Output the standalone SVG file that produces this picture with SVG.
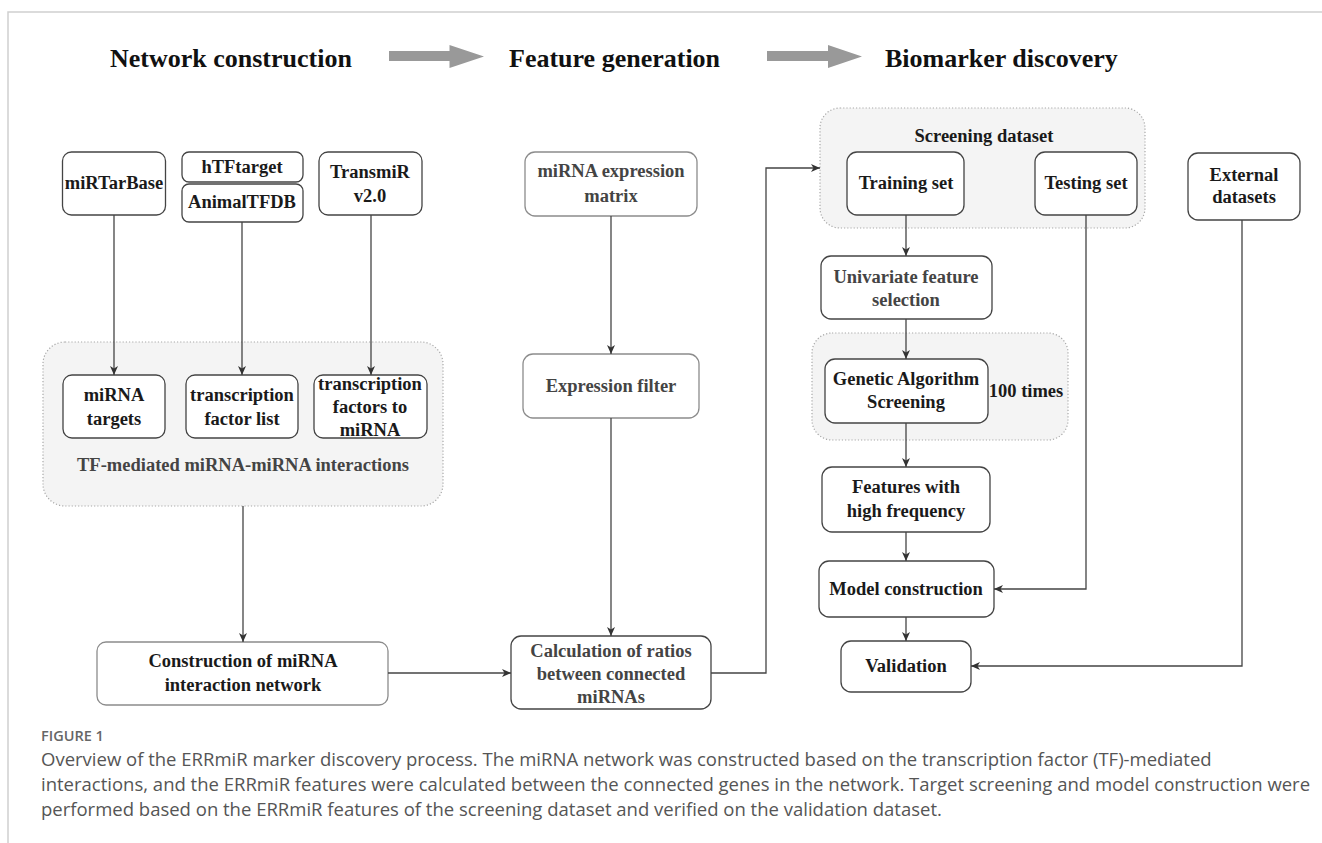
<svg xmlns="http://www.w3.org/2000/svg" width="1322" height="843" viewBox="0 0 1322 843">
<style>
.bg{fill:#fff}
.frame{stroke:#d0d0d0;stroke-width:1.5;fill:none}
.grp{fill:#f4f4f4;stroke:#a8a8a8;stroke-width:1.2;stroke-dasharray:1.2 2}
.box{fill:#fff;stroke:#444;stroke-width:1.3}
.lt{fill:#fff;stroke:#8c8c8c;stroke-width:1.3}
.t{font-family:"Liberation Serif","Times New Roman",serif;font-weight:bold;font-size:18.5px;fill:#1a1a1a;text-anchor:middle}
.g{fill:#444}
.h{font-family:"Liberation Serif","Times New Roman",serif;font-weight:bold;font-size:26px;fill:#111}
.big{fill:#999}
.conn path{fill:none;stroke:#444;stroke-width:1.3;marker-end:url(#ah)}
.cap{font-family:"Open Sans","Noto Sans",sans-serif;font-size:18.5px;fill:#555}
.fig{font-family:"Open Sans","Noto Sans",sans-serif;font-size:14.5px;font-weight:600;fill:#666}
</style>
<defs>
<marker id="ah" markerUnits="userSpaceOnUse" markerWidth="10" markerHeight="9" refX="9" refY="4" orient="auto">
<path d="M0,0 L9,4 L0,8 L2.5,4 z" fill="#333"/>
</marker>
</defs>
<rect class="bg" x="0" y="0" width="1322" height="843"/>
<path class="frame" d="M8,843 V12 H1322"/>

<g id="headers">
<text class="h" x="110" y="67">Network construction</text>
<polygon class="big" points="389,51 449.5,51 449.5,45 484,56.5 449.5,68 449.5,61 389,61"/>
<text class="h" x="509" y="67">Feature generation</text>
<polygon class="big" points="767,51 828,51 828,45 862,56.5 828,68 828,61 767,61"/>
<text class="h" x="885" y="67">Biomarker discovery</text>
</g>

<g id="grp-tf"><rect class="grp" x="43" y="342" width="400" height="164" rx="22"/>
<text class="t g" x="243" y="471">TF-mediated miRNA-miRNA interactions</text></g>
<g id="grp-screen"><rect class="grp" x="820" y="108" width="325" height="120" rx="20"/>
<text class="t" x="984" y="142">Screening dataset</text></g>
<g id="grp-ga"><rect class="grp" x="812" y="333" width="256" height="107" rx="20"/>
<text class="t" x="1026" y="397">100 times</text></g>

<g id="n-mirtarbase"><rect class="box" x="62.5" y="152" width="103" height="63" rx="9"/>
<text class="t" x="114" y="189">miRTarBase</text></g>
<g id="n-htftarget"><rect class="box" x="182" y="152" width="121" height="30" rx="7"/>
<text class="t" x="242" y="173">hTFtarget</text></g>
<g id="n-animaltfdb"><rect class="box" x="182" y="184" width="121" height="38" rx="7"/>
<text class="t" x="242" y="208">AnimalTFDB</text></g>
<g id="n-transmir"><rect class="box" x="319" y="152" width="103" height="63" rx="9"/>
<text class="t" x="370" y="178">TransmiR</text><text class="t" x="370" y="202">v2.0</text></g>

<g id="n-targets"><rect class="box" x="63" y="375" width="102" height="63" rx="9"/>
<text class="t" x="114" y="401">miRNA</text><text class="t" x="114" y="425">targets</text></g>
<g id="n-tflist"><rect class="box" x="186" y="375" width="112" height="63" rx="9"/>
<text class="t" x="242" y="401">transcription</text><text class="t" x="242" y="425">factor list</text></g>
<g id="n-tf2mirna"><rect class="box" x="314" y="375" width="113" height="63" rx="9"/>
<text class="t" x="370" y="390">transcription</text><text class="t" x="370" y="413">factors to</text><text class="t" x="370" y="436">miRNA</text></g>

<g id="n-construction"><rect class="lt" x="97" y="642" width="291" height="63" rx="9"/>
<text class="t" x="243" y="667">Construction of miRNA</text><text class="t" x="243" y="691">interaction network</text></g>

<g id="n-exprmatrix"><rect class="lt" x="525" y="152" width="172" height="64" rx="10"/>
<text class="t g" x="611" y="177">miRNA expression</text><text class="t g" x="611" y="202">matrix</text></g>
<g id="n-exprfilter"><rect class="lt" x="523" y="354" width="176" height="64" rx="10"/>
<text class="t g" x="611" y="392">Expression filter</text></g>
<g id="n-calc"><rect class="box" x="511" y="636" width="200" height="73" rx="10"/>
<text class="t g" x="611" y="657">Calculation of ratios</text><text class="t g" x="611" y="680">between connected</text><text class="t g" x="611" y="703">miRNAs</text></g>

<g id="n-training"><rect class="box" x="847" y="152" width="117" height="63" rx="10"/>
<text class="t" x="906" y="189">Training set</text></g>
<g id="n-testing"><rect class="box" x="1035" y="152" width="102" height="63" rx="10"/>
<text class="t" x="1086" y="189">Testing set</text></g>
<g id="n-external"><rect class="box" x="1188" y="153" width="112" height="67" rx="10"/>
<text class="t" x="1244" y="181">External</text><text class="t" x="1244" y="203">datasets</text></g>
<g id="n-univariate"><rect class="box" x="821" y="256" width="171" height="63" rx="10"/>
<text class="t g" x="906" y="283">Univariate feature</text><text class="t g" x="906" y="306">selection</text></g>
<g id="n-ga"><rect class="box" x="825" y="359" width="163" height="64" rx="10"/>
<text class="t" x="906" y="385">Genetic Algorithm</text><text class="t" x="906" y="408">Screening</text></g>
<g id="n-features"><rect class="box" x="822" y="467" width="168" height="65" rx="10"/>
<text class="t" x="906" y="493">Features with</text><text class="t" x="906" y="517">high frequency</text></g>
<g id="n-model"><rect class="box" x="819" y="561" width="175" height="56" rx="10"/>
<text class="t" x="906" y="595">Model construction</text></g>
<g id="n-validation"><rect class="box" x="841" y="641" width="130" height="51" rx="10"/>
<text class="t" x="906" y="672">Validation</text></g>

<g id="connectors" class="conn">
<path d="M114,215 V375"/>
<path d="M242,222 V375"/>
<path d="M371,215 V375"/>
<path d="M243,506 V642"/>
<path d="M388,673 H511"/>
<path d="M611,216 V354"/>
<path d="M611,418 V636"/>
<path d="M711,673 H766 V168 H820"/>
<path d="M906,215 V256"/>
<path d="M906,319 V359"/>
<path d="M906,423 V467"/>
<path d="M906,532 V561"/>
<path d="M906,617 V641"/>
<path d="M1086,215 V589 H994"/>
<path d="M1242,220 V666 H971"/>
</g>

<g id="caption">
<text class="fig" x="41" y="741">FIGURE 1</text>
<text class="cap" x="41" y="766">Overview of the ERRmiR marker discovery process. The miRNA network was constructed based on the transcription factor (TF)-mediated</text>
<text class="cap" x="41" y="791">interactions, and the ERRmiR features were calculated between the connected genes in the network. Target screening and model construction were</text>
<text class="cap" x="41" y="816">performed based on the ERRmiR features of the screening dataset and verified on the validation dataset.</text>
</g>
</svg>
